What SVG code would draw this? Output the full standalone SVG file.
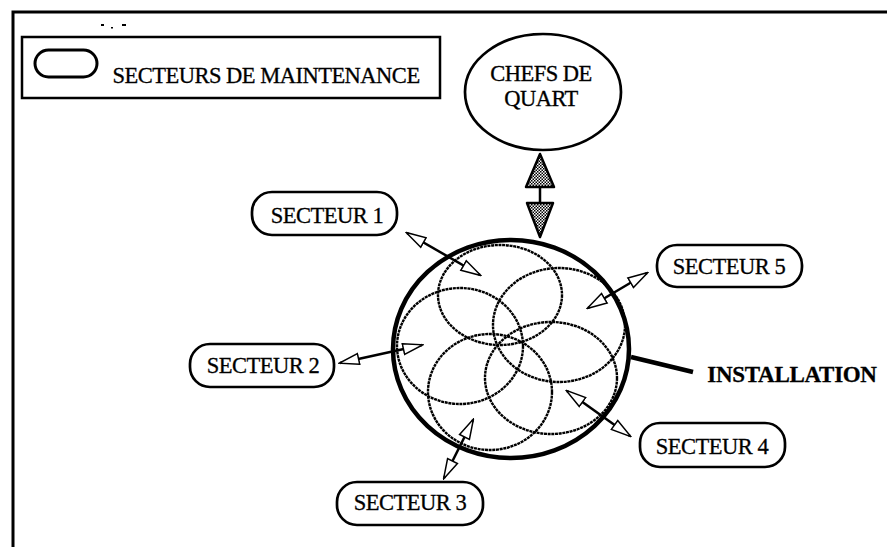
<svg xmlns="http://www.w3.org/2000/svg" width="887" height="547" viewBox="0 0 887 547">
<defs>
<style>
.t{font-family:"Liberation Serif","Times New Roman",serif;font-size:22.5px;letter-spacing:-0.5px;fill:#000;stroke:#000;stroke-width:0.3;text-anchor:middle}
.box{fill:#fff;stroke:#000;stroke-width:2.7}
.sec{fill:none;stroke:#000;stroke-width:2.4;stroke-dasharray:3 0.7}
.arr{fill:none;stroke:#000;stroke-width:2.5;marker-start:url(#oh);marker-end:url(#oh)}
</style>
<marker id="oh" viewBox="0 0 22 14" refX="20" refY="7" markerWidth="22" markerHeight="14" markerUnits="userSpaceOnUse" orient="auto-start-reverse">
<path d="M1,1.5 L21,7 L1,12.5 Z" fill="#fff" stroke="#000" stroke-width="1.5"/>
</marker>
<pattern id="dots" width="3" height="3" patternUnits="userSpaceOnUse">
<rect width="3" height="3" fill="#fff"/>
<rect width="1.5" height="1.5" fill="#000"/>
<rect x="1.5" y="1.5" width="1.5" height="1.5" fill="#000"/>
</pattern>
</defs>
<rect width="887" height="547" fill="#fff"/>
<g id="frame" stroke="#000" stroke-width="3" fill="none">
<path d="M13,547 L13,12 L887,12"/>
</g>
<g id="scan-marks" fill="#000">
<rect x="101" y="24" width="3" height="2"/>
<rect x="111" y="27" width="2" height="1.5"/>
<rect x="122" y="24" width="4" height="2"/>
</g>
<g id="legend">
<rect x="22" y="37" width="418" height="61" fill="none" stroke="#000" stroke-width="2.5"/>
<rect x="35" y="50" width="62" height="27" rx="13.5" class="box" style="stroke-width:3"/>
<text x="266" y="83" class="t">SECTEURS DE MAINTENANCE</text>
</g>
<g id="chefs">
<ellipse cx="543" cy="92" rx="78" ry="58" class="box"/>
<text x="541" y="81" class="t">CHEFS DE</text>
<text x="541" y="106" class="t">QUART</text>
</g>
<g id="installation">
<ellipse cx="511" cy="349" rx="118" ry="109" fill="none" stroke="#000" stroke-width="4.5"/>
<ellipse cx="500" cy="295" rx="62" ry="50" class="sec"/>
<ellipse cx="559" cy="325" rx="66" ry="57" class="sec"/>
<ellipse cx="460" cy="346" rx="63" ry="58" class="sec"/>
<ellipse cx="490" cy="392" rx="62" ry="58" class="sec"/>
<ellipse cx="551" cy="378" rx="66" ry="56" class="sec"/>
<path d="M631,357 L693,372" stroke="#000" stroke-width="4.5" fill="none"/>
<text x="792" y="382" class="t" style="font-weight:bold;font-size:23px;letter-spacing:-0.3px">INSTALLATION</text>
</g>
<g id="s1"><rect x="252" y="192" width="145" height="43" rx="20" class="box"/><text x="327" y="223" class="t">SECTEUR 1</text></g>
<g id="s2"><rect x="190" y="344" width="144" height="43" rx="20" class="box"/><text x="263" y="373" class="t">SECTEUR 2</text></g>
<g id="s3"><rect x="337" y="482" width="146" height="43" rx="20" class="box"/><text x="410" y="510" class="t">SECTEUR 3</text></g>
<g id="s4"><rect x="640" y="423" width="145" height="44" rx="20" class="box"/><text x="712" y="454" class="t">SECTEUR 4</text></g>
<g id="s5"><rect x="657" y="245" width="145" height="42" rx="20" class="box"/><text x="729" y="274" class="t">SECTEUR 5</text></g>
<g id="connectors">
<path d="M407,233 L480,275" class="arr"/>
<path d="M647,273 L588,308" class="arr"/>
<path d="M340,363 L422,345" class="arr"/>
<path d="M473,420 L444,478" class="arr"/>
<path d="M567,391 L630,436" class="arr"/>
<g id="chefs-link" stroke="#000" stroke-width="2.5">
<path d="M540,187 L540,203" fill="none"/>
<path d="M540,154 L554,187 L526,187 Z" fill="url(#dots)" stroke-linejoin="round"/>
<path d="M527,203 L553,203 L540,237 Z" fill="url(#dots)" stroke-linejoin="round"/>
</g>
</g>
</svg>
